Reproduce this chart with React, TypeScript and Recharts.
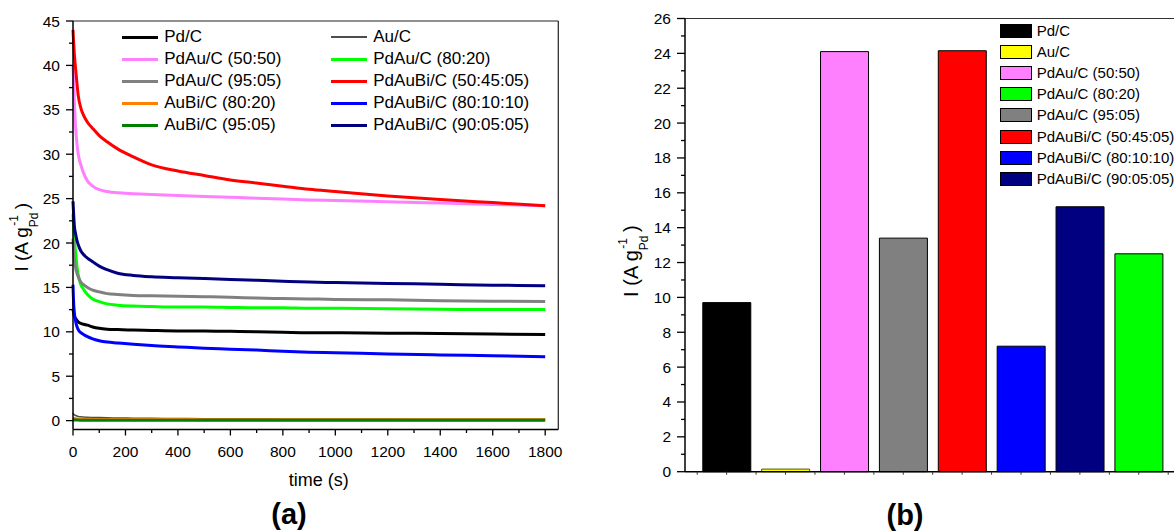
import React from 'react';
import { LineChart, Line, XAxis, YAxis, ReferenceLine, Legend, BarChart, Bar, Cell } from 'recharts';

const FONT = '"Liberation Sans", Arial, Helvetica, sans-serif';
const TICK_FONT = 15.5;

// (a) chronoamperometry, time in s
const timeS = [0, 2, 5, 10, 15, 20, 30, 40, 55, 75, 100, 130, 170, 230, 300, 400, 500, 600, 700, 800, 900, 1000, 1200, 1400, 1600, 1800];

const pdC = [12.6, 12.2, 11.8, 11.5, 11.3, 11.1, 10.95, 10.85, 10.75, 10.55, 10.4, 10.3, 10.25, 10.2, 10.15, 10.1, 10.1, 10.05, 10.0, 9.95, 9.9, 9.9, 9.85, 9.8, 9.75, 9.7];
const auC = [0.85, 0.75, 0.65, 0.58, 0.52, 0.48, 0.44, 0.41, 0.38, 0.36, 0.34, 0.32, 0.3, 0.28, 0.26, 0.24, 0.22, 0.21, 0.2, 0.19, 0.18, 0.18, 0.17, 0.16, 0.16, 0.15];
const pdAu5050 = [40.0, 38.5, 36.0, 33.0, 31.2, 30.0, 28.8, 27.9, 27.0, 26.4, 26.0, 25.8, 25.65, 25.55, 25.45, 25.35, 25.25, 25.15, 25.05, 24.95, 24.85, 24.8, 24.65, 24.5, 24.35, 24.2];
const pdAu8020 = [23.3, 22.0, 20.6, 18.9, 17.4, 16.4, 15.3, 14.8, 14.2, 13.7, 13.4, 13.15, 13.0, 12.9, 12.85, 12.8, 12.8, 12.75, 12.7, 12.7, 12.65, 12.65, 12.6, 12.55, 12.5, 12.5];
const pdAu9505 = [20.5, 19.3, 18.2, 17.2, 16.6, 16.2, 15.6, 15.3, 15.0, 14.7, 14.5, 14.3, 14.2, 14.1, 14.05, 14.0, 13.95, 13.9, 13.8, 13.75, 13.7, 13.65, 13.6, 13.5, 13.45, 13.4];
const pdAuBi504505 = [44.0, 42.8, 41.3, 39.6, 38.0, 36.6, 35.2, 34.4, 33.6, 32.9, 32.1, 31.4, 30.6, 29.7, 28.8, 28.1, 27.6, 27.1, 26.75, 26.4, 26.05, 25.8, 25.3, 24.9, 24.55, 24.2];
const auBi8020 = [0.3, 0.27, 0.24, 0.21, 0.19, 0.18, 0.17, 0.16, 0.15, 0.14, 0.14, 0.13, 0.13, 0.12, 0.12, 0.12, 0.11, 0.11, 0.11, 0.1, 0.1, 0.1, 0.1, 0.1, 0.1, 0.1];
const pdAuBi801010 = [15.3, 13.5, 12.2, 11.2, 10.6, 10.25, 9.9, 9.7, 9.45, 9.2, 9.0, 8.85, 8.75, 8.6, 8.45, 8.3, 8.15, 8.05, 7.95, 7.8, 7.7, 7.65, 7.5, 7.4, 7.3, 7.2];
const auBi9505 = [0.07, 0.07, 0.06, 0.06, 0.06, 0.06, 0.05, 0.05, 0.05, 0.05, 0.05, 0.05, 0.05, 0.05, 0.05, 0.05, 0.05, 0.05, 0.05, 0.05, 0.05, 0.05, 0.05, 0.05, 0.05, 0.05];
const pdAuBi900505 = [24.7, 23.5, 22.0, 21.0, 20.3, 19.8, 19.1, 18.7, 18.3, 17.9, 17.4, 17.0, 16.6, 16.35, 16.2, 16.1, 16.0, 15.9, 15.8, 15.7, 15.6, 15.55, 15.45, 15.35, 15.25, 15.2];

const xTicksA = [0, 100, 200, 300, 400, 500, 600, 700, 800, 900, 1000, 1100, 1200, 1300, 1400, 1500, 1600, 1700, 1800];
const yTicksA = [0, 2.5, 5, 7.5, 10, 12.5, 15, 17.5, 20, 22.5, 25, 27.5, 30, 32.5, 35, 37.5, 40, 42.5, 45];

// (b) current at 1800 s
const barNames = ['Pd/C', 'Au/C', 'PdAu/C (50:50)', 'PdAu/C (95:05)', 'PdAuBi/C (50:45:05)', 'PdAuBi/C (80:10:10)', 'PdAuBi/C (90:05:05)', 'PdAu/C (80:20)'];
const barValues = [9.7, 0.15, 24.1, 13.4, 24.15, 7.2, 15.2, 12.5];
const legendNamesB = ['Pd/C', 'Au/C', 'PdAu/C (50:50)', 'PdAu/C (80:20)', 'PdAu/C (95:05)', 'PdAuBi/C (50:45:05)', 'PdAuBi/C (80:10:10)', 'PdAuBi/C (90:05:05)'];
const yTicksB = [0, 1, 2, 3, 4, 5, 6, 7, 8, 9, 10, 11, 12, 13, 14, 15, 16, 17, 18, 19, 20, 21, 22, 23, 24, 25, 26];

const seriesValues: Record<string, number[]> = {
  pdC, auC, pdAu5050, pdAu8020, pdAu9505, pdAuBi504505, auBi8020, pdAuBi801010, auBi9505, pdAuBi900505,
};

// legend order (two columns, row by row)
const lineSeries = [
  { key: 'pdC', name: 'Pd/C', color: '#000000', width: 3 },
  { key: 'auC', name: 'Au/C', color: '#4d4d4d', width: 1.5 },
  { key: 'pdAu5050', name: 'PdAu/C (50:50)', color: '#ff80ff', width: 3 },
  { key: 'pdAu8020', name: 'PdAu/C (80:20)', color: '#00ff00', width: 3 },
  { key: 'pdAu9505', name: 'PdAu/C (95:05)', color: '#808080', width: 3 },
  { key: 'pdAuBi504505', name: 'PdAuBi/C (50:45:05)', color: '#ff0000', width: 3 },
  { key: 'auBi8020', name: 'AuBi/C (80:20)', color: '#ff8000', width: 3 },
  { key: 'pdAuBi801010', name: 'PdAuBi/C (80:10:10)', color: '#0000ff', width: 3 },
  { key: 'auBi9505', name: 'AuBi/C (95:05)', color: '#008000', width: 3 },
  { key: 'pdAuBi900505', name: 'PdAuBi/C (90:05:05)', color: '#000080', width: 3 },
];

const barColors: Record<string, string> = {
  'Pd/C': '#000000',
  'Au/C': '#ffff00',
  'PdAu/C (50:50)': '#ff80ff',
  'PdAu/C (80:20)': '#00ff00',
  'PdAu/C (95:05)': '#808080',
  'PdAuBi/C (50:45:05)': '#ff0000',
  'PdAuBi/C (80:10:10)': '#0000ff',
  'PdAuBi/C (90:05:05)': '#000080',
};

const lineData = timeS.map((t, i) => {
  const row: Record<string, number> = { t };
  lineSeries.forEach((s) => { row[s.key] = seriesValues[s.key][i]; });
  return row;
});

const barData = barNames.map((name, i) => ({ name, value: barValues[i] }));

// chart geometry
const A_W = 570, A_H = 531;
const B_W = 600, B_H = 531;
const B_MARGIN = { top: 18.5, right: 15, left: 15, bottom: 29.3 };
const B_YAXIS_W = 70;
const B_PAD = { left: 12.2, right: 16.8 };
const B_BAND = (B_W - B_MARGIN.left - B_MARGIN.right - B_YAXIS_W - B_PAD.left - B_PAD.right) / barNames.length;

function makeXTick(tickSize: number, tickMargin: number, isMajor: (v: number) => boolean) {
  return (props: any) => {
    const { x, y, payload } = props;
    const axisY = y - tickSize - tickMargin;
    const major = isMajor(payload.value);
    return (
      <g>
        <line x1={x} x2={x} y1={axisY} y2={axisY + (major ? 6 : 3.5)} stroke="#000" strokeWidth={1.3} />
        {major && (
          <text x={x} y={y} dy="0.71em" textAnchor="middle" fontSize={TICK_FONT} fill="#000" fontFamily={FONT}>
            {payload.value}
          </text>
        )}
      </g>
    );
  };
}

function makeYTick(tickSize: number, tickMargin: number, isMajor: (v: number) => boolean, majorLen: number, minorLen: number) {
  return (props: any) => {
    const { x, y, payload } = props;
    const axisX = x + tickSize + tickMargin;
    const major = isMajor(payload.value);
    return (
      <g>
        <line x1={axisX - (major ? majorLen : minorLen)} x2={axisX} y1={y} y2={y} stroke="#000" strokeWidth={1.3} />
        {major && (
          <text x={x} y={y} dy="0.355em" textAnchor="end" fontSize={TICK_FONT} fill="#000" fontFamily={FONT}>
            {payload.value}
          </text>
        )}
      </g>
    );
  };
}

function BarXTick(props: any) {
  const { x, y, index } = props;
  const axisY = y - 2 - 4;
  const half = B_BAND / 2;
  const last = index === barNames.length - 1;
  return (
    <g stroke="#333" strokeWidth={1}>
      <line x1={x - half} x2={x - half} y1={axisY} y2={axisY + 3} />
      <line x1={x} x2={x} y1={axisY} y2={axisY + 3} />
      {last && <line x1={x + half} x2={x + half} y1={axisY} y2={axisY + 3} />}
    </g>
  );
}

function yTitle(dx: number, dyCenter: number, size: number) {
  const small = Math.round(size * 0.62);
  return (props: any) => {
    const vb = props.viewBox || {};
    const cx = vb.x + dx;
    const cy = vb.y + vb.height / 2 + dyCenter;
    return (
      <text
        transform={`rotate(-90 ${cx} ${cy})`}
        x={cx}
        y={cy}
        textAnchor="middle"
        fontSize={size}
        fontFamily={FONT}
        fill="#000"
      >
        I (A g
        <tspan dy={size * 0.5} fontSize={small}>Pd</tspan>
        <tspan dx={-small * 1.1} dy={-size * 1.05} fontSize={small}>-1</tspan>
        <tspan dx={size * 0.3} dy={size * 0.55}>)</tspan>
      </text>
    );
  };
}

function xTitleA(props: any) {
  const vb = props.viewBox || {};
  return (
    <text x={vb.x + vb.width / 2 + 3} y={vb.y + 50.5} dy="0.35em" textAnchor="middle" fontSize={18} fontFamily={FONT} fill="#000">
      time (s)
    </text>
  );
}

function LegendA() {
  return (
    <div style={{ position: 'relative', width: A_W, height: 150, fontFamily: FONT, fontSize: 17, color: '#000' }}>
      {lineSeries.map((s, i) => {
        const col = i % 2;
        const row = Math.floor(i / 2);
        const cy = 37 + row * 22;
        const lx = col === 0 ? 121.7 : 330.7;
        return (
          <div key={s.key} style={{ position: 'absolute', left: lx, top: cy - 10, height: 20, display: 'flex', alignItems: 'center', whiteSpace: 'nowrap' }}>
            <div style={{ width: 36.6, height: s.key === 'auC' ? 2 : 3, background: s.color }} />
            <span style={{ marginLeft: 6, lineHeight: '20px' }}>{s.name}</span>
          </div>
        );
      })}
    </div>
  );
}

function LegendB() {
  return (
    <div style={{ position: 'relative', width: B_W, height: 200, fontFamily: FONT, fontSize: 15, color: '#000' }}>
      {legendNamesB.map((name, i) => {
        const cy = 31 + i * 21.1;
        return (
          <div key={name} style={{ position: 'absolute', left: 399.7, top: cy - 9, height: 18, display: 'flex', alignItems: 'center', whiteSpace: 'nowrap' }}>
            <div style={{ width: 30, height: 12, background: barColors[name], border: '1px solid #000' }} />
            <span style={{ marginLeft: 5, lineHeight: '18px' }}>{name}</span>
          </div>
        );
      })}
    </div>
  );
}

const XTickA = makeXTick(6, 10, (v) => v % 200 === 0);
const YTickA = makeYTick(7, 6, (v) => v % 5 === 0, 7, 4);
const YTickB = makeYTick(8, 6, (v) => v % 2 === 0, 8, 4);

export default function App() {
  return (
    <div style={{ position: 'absolute', left: 0, top: 0, width: 1174, height: 531, overflow: 'hidden', background: '#fff', fontFamily: FONT }}>
      <div style={{ position: 'absolute', left: 0, top: 0 }}>
        <LineChart width={A_W} height={A_H} data={lineData} margin={{ top: 21, right: 11.7, left: 13, bottom: 71.5 }}>
          <XAxis
            dataKey="t"
            type="number"
            domain={[0, 1850]}
            ticks={xTicksA}
            interval={0}
            height={30}
            tickSize={6}
            tickMargin={10}
            tickLine={false}
            tick={XTickA}
            axisLine={{ stroke: '#000', strokeWidth: 1.5 }}
            label={xTitleA}
          />
          <YAxis
            type="number"
            domain={[-1, 45]}
            ticks={yTicksA}
            interval={0}
            width={60}
            tickSize={7}
            tickMargin={6}
            tickLine={false}
            tick={YTickA}
            axisLine={{ stroke: '#000', strokeWidth: 1.5 }}
            label={yTitle(15, 12, 19)}
          />
          <ReferenceLine y={45} stroke="#222" strokeWidth={1.2} />
          <ReferenceLine x={1850} stroke="#222" strokeWidth={1.2} />
          {lineSeries.map((s) => (
            <Line
              key={s.key}
              dataKey={s.key}
              name={s.name}
              type="monotone"
              stroke={s.color}
              strokeWidth={s.width}
              dot={false}
              activeDot={false}
              isAnimationActive={false}
            />
          ))}
          <Legend
            layout="vertical"
            align="center"
            verticalAlign="middle"
            content={() => <LegendA />}
            wrapperStyle={{ left: 0, top: 0, width: A_W, height: 150 }}
          />
        </LineChart>
      </div>

      <div style={{ position: 'absolute', left: 600, top: 0 }}>
        <BarChart width={B_W} height={B_H} data={barData} margin={B_MARGIN} barCategoryGap="9.5%">
          <XAxis
            dataKey="name"
            padding={B_PAD}
            interval={0}
            height={30}
            tickSize={2}
            tickMargin={4}
            tickLine={false}
            tick={BarXTick}
            axisLine={{ stroke: '#000', strokeWidth: 1.5 }}
          />
          <YAxis
            type="number"
            domain={[0, 26]}
            ticks={yTicksB}
            interval={0}
            width={B_YAXIS_W}
            tickSize={8}
            tickMargin={6}
            tickLine={false}
            tick={YTickB}
            axisLine={{ stroke: '#000', strokeWidth: 1.5 }}
            label={yTitle(23, 16, 20)}
          />
          <ReferenceLine y={26} stroke="#333" strokeWidth={1.2} />
          <Bar dataKey="value" stroke="#000" strokeWidth={1} isAnimationActive={false}>
            {barData.map((d) => (
              <Cell key={d.name} fill={barColors[d.name]} stroke={d.name === 'Au/C' ? '#555500' : '#000'} />
            ))}
          </Bar>
          <Legend
            layout="vertical"
            align="center"
            verticalAlign="middle"
            content={() => <LegendB />}
            wrapperStyle={{ left: 0, top: 0, width: B_W, height: 200 }}
          />
        </BarChart>
      </div>

      <div style={{ position: 'absolute', left: 239, top: 499, width: 100, textAlign: 'center', fontWeight: 'bold', fontSize: 29, lineHeight: '30px' }}>
        (a)
      </div>
      <div style={{ position: 'absolute', left: 855, top: 500, width: 100, textAlign: 'center', fontWeight: 'bold', fontSize: 29, lineHeight: '30px' }}>
        (b)
      </div>
    </div>
  );
}
